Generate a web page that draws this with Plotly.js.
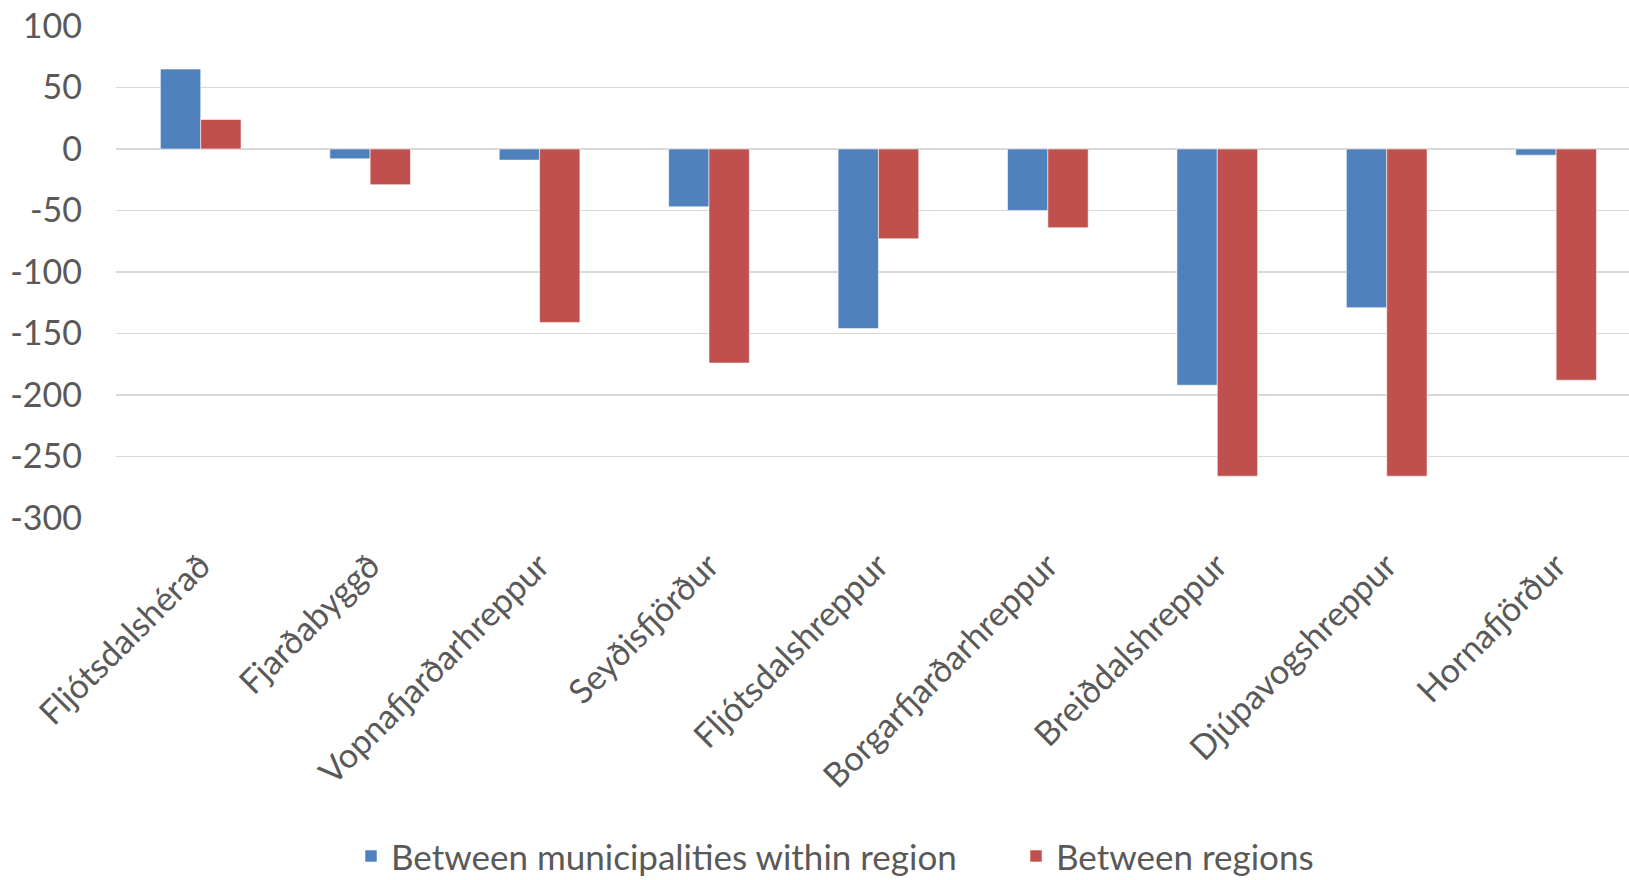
<!DOCTYPE html>
<html>
<head>
<meta charset="utf-8">
<script src="https://cdn.plot.ly/plotly-3.0.1.min.js"></script>
<style>
html,body{margin:0;padding:0;background:#fff;}
#chart{width:1629px;height:880px;}
</style>
</head>
<body>
<div id="chart"></div>
<script>
const categories = ["Fljótsdalshérað","Fjarðabyggð","Vopnafjarðarhreppur","Seyðisfjörður","Fljótsdalshreppur","Borgarfjarðarhreppur","Breiðdalshreppur","Djúpavogshreppur","Hornafjörður"];
const withinRegion = [65, -8, -9, -47, -146, -50, -192, -129, -5];
const betweenRegions = [24, -29, -141, -174, -73, -64, -266, -266, -188];
const seriesNames = ["Between municipalities within region", "Between regions"];
const yTicks = [100, 50, 0, -50, -100, -150, -200, -250, -300];

const fontFam = "Lato, 'Open Sans', sans-serif";
const txtColor = "#595959";

const idx = categories.map((_, i) => i);

const traces = [
  {type: "bar", name: seriesNames[0], x: idx, y: withinRegion, legend: "legend",
   marker: {color: "#4F81BD", line: {color: "rgba(255,255,255,0.55)", width: 1}}},
  {type: "bar", name: seriesNames[1], x: idx, y: betweenRegions, legend: "legend2",
   marker: {color: "#C0504D", line: {color: "rgba(255,255,255,0.55)", width: 1}}}
];

const legBase = {orientation: "h", xref: "container", yref: "container", xanchor: "left",
  y: 0.027, yanchor: "middle", font: {family: fontFam, size: 35, color: txtColor},
  bgcolor: "rgba(0,0,0,0)"};

const layout = {
  width: 1629, height: 880,
  paper_bgcolor: "#fff", plot_bgcolor: "#fff",
  margin: {l: 116, r: 0, t: 26, b: 362, pad: 0},
  barmode: "group", bargap: 0.524, bargroupgap: 0,
  font: {family: fontFam, color: txtColor, size: 34},
  showlegend: true,
  legend: Object.assign({}, legBase, {x: 351 / 1629}),
  legend2: Object.assign({}, legBase, {x: 1016 / 1629}),
  xaxis: {
    range: [-0.5, 8.43],
    tickmode: "array", tickvals: idx, ticktext: categories,
    tickangle: -45, showgrid: false, zeroline: false, showline: false,
    ticks: "", ticklabelstandoff: 20,
    tickfont: {family: fontFam, size: 34, color: txtColor},
    fixedrange: true
  },
  yaxis: {
    range: [-300, 100],
    tickmode: "array", tickvals: yTicks, ticktext: yTicks.map(String),
    showgrid: true, gridcolor: "#d9d9d9", gridwidth: 1.5,
    zeroline: true, zerolinecolor: "#d9d9d9", zerolinewidth: 1.5,
    showline: false, ticks: "", ticklabelstandoff: 33,
    tickfont: {family: fontFam, size: 34, color: txtColor},
    fixedrange: true
  }
};

Plotly.newPlot("chart", traces, layout, {displayModeBar: false, staticPlot: true});
</script>
</body>
</html>
